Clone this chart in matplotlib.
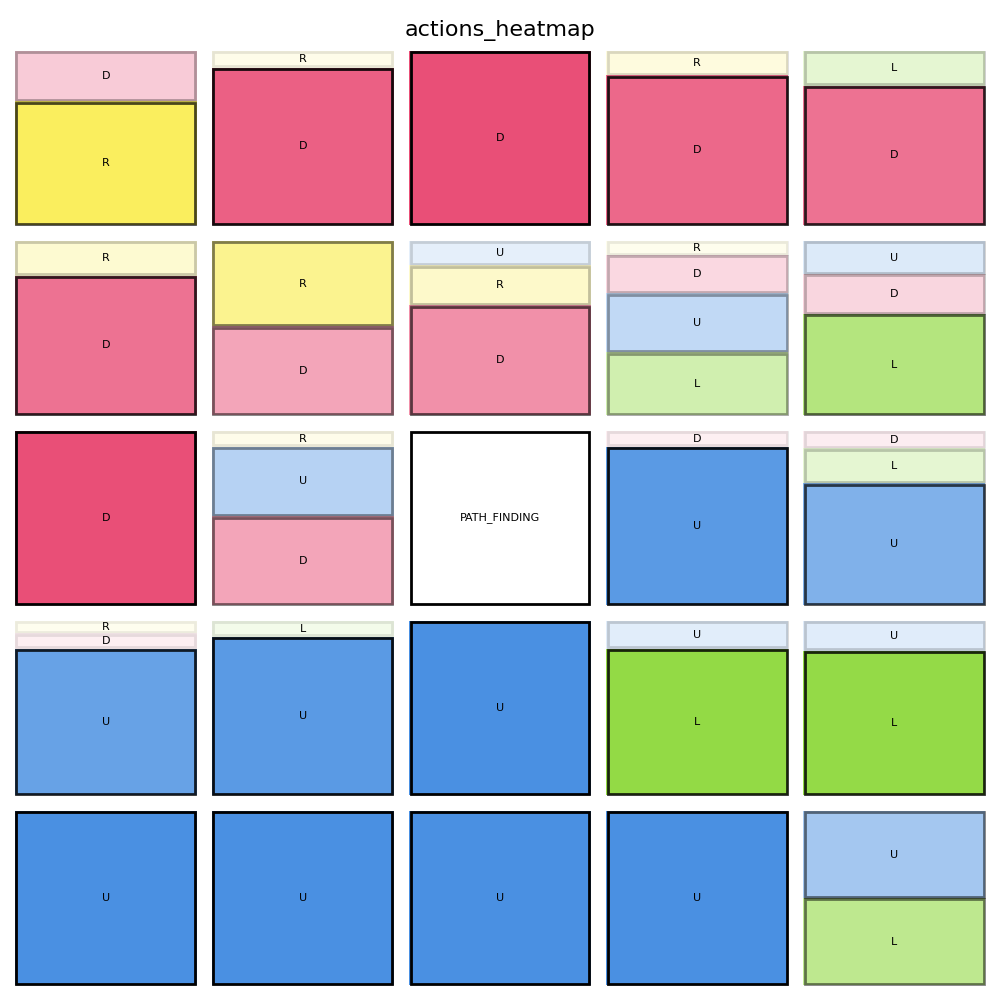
import matplotlib
matplotlib.use("Agg")
import matplotlib.pyplot as plt
from matplotlib.patches import Rectangle

action_colors = {"U": "#4A90E2", "D": "#E94F77", "L": "#7ED321", "R": "#F8E71C"}

# each cell: actions from bottom to top; None = special cell
cell_actions = [
    [["R", "D"], ["D", "R"], ["D"], ["D", "R"], ["D", "L"]],
    [["D", "R"], ["D", "R"], ["D", "R", "U"], ["L", "U", "D", "R"], ["L", "D", "U"]],
    [["D"], ["D", "U", "R"], None, ["U", "D"], ["U", "L", "D"]],
    [["U", "D", "R"], ["U", "L"], ["U"], ["L", "U"], ["L", "U"]],
    [["U"], ["U"], ["U"], ["U"], ["L", "U"]],
]
cell_fracs = [
    [[0.71, 0.29], [0.905, 0.095], [1.0], [0.86, 0.14], [0.80, 0.20]],
    [[0.80, 0.20], [0.51, 0.49], [0.63, 0.23, 0.14], [0.36, 0.34, 0.22, 0.08], [0.58, 0.23, 0.19]],
    [[1.0], [0.51, 0.40, 0.09], None, [0.91, 0.09], [0.70, 0.20, 0.10]],
    [[0.84, 0.09, 0.07], [0.91, 0.09], [1.0], [0.84, 0.16], [0.83, 0.17]],
    [[1.0], [1.0], [1.0], [1.0], [0.50, 0.50]],
]
special_label = "PATH_FINDING"
title = "actions_heatmap"

DPI = 100
LW = 2.0
fig, axes = plt.subplots(5, 5, figsize=(10, 10), dpi=DPI)
fig.subplots_adjust(left=0.015, right=0.985, top=0.949, bottom=0.015,
                    wspace=0.0854, hspace=0.092)

half_px = LW * DPI / 72.0 / 2.0

for r in range(5):
    for c in range(5):
        ax = axes[r][c]
        ax.set_xlim(0, 1)
        ax.set_ylim(0, 1)
        ax.axis("off")
        pos = ax.get_position()
        wpx = pos.width * fig.get_figwidth() * DPI
        hpx = pos.height * fig.get_figheight() * DPI
        dx = half_px / wpx
        dy = half_px / hpx
        acts = cell_actions[r][c]
        fracs = cell_fracs[r][c]
        if acts is None:
            ax.add_patch(Rectangle((dx, dy), 1 - 2 * dx, 1 - 2 * dy, facecolor="white",
                                   edgecolor="black", linewidth=LW, clip_on=False))
            ax.text(0.5, 0.5, special_label, ha="center", va="center", fontsize=8)
            continue
        bottom = 0.0
        for a, f in zip(acts, fracs):
            ax.add_patch(Rectangle((0, bottom), 1, f, facecolor=action_colors[a],
                                   alpha=f, edgecolor="none", clip_on=False))
            ax.add_patch(Rectangle((dx, bottom + dy), 1 - 2 * dx, f - 2 * dy, fill=False,
                                   edgecolor="black", alpha=f, linewidth=LW, clip_on=False))
            ax.text(0.5, bottom + f / 2, a, ha="center", va="center", fontsize=8)
            bottom += f

fig.suptitle(title, fontsize=16, y=0.98)
fig.savefig("out.png", dpi=DPI)
